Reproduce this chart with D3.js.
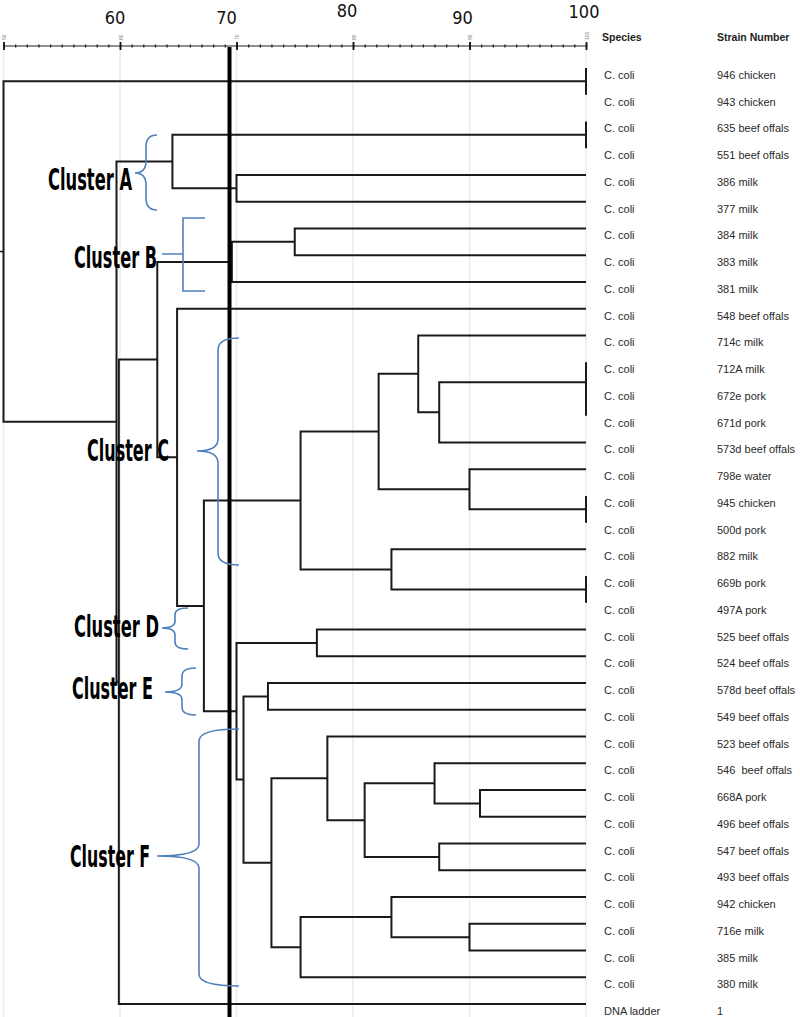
<!DOCTYPE html>
<html>
<head>
<meta charset="utf-8">
<script src="https://cdn.jsdelivr.net/npm/d3@7"></script>
<style>
  html, body { margin: 0; padding: 0; background: #fff; }
  svg { display: block; }
  text { white-space: pre; }
</style>
</head>
<body>
<svg id="chart" width="800" height="1017"></svg>
<script>
// ---------------- DATA ----------------
const species = [
  "C. coli","C. coli","C. coli","C. coli","C. coli","C. coli","C. coli","C. coli","C. coli",
  "C. coli","C. coli","C. coli","C. coli","C. coli","C. coli","C. coli","C. coli","C. coli",
  "C. coli","C. coli","C. coli","C. coli","C. coli","C. coli","C. coli","C. coli","C. coli",
  "C. coli","C. coli","C. coli","C. coli","C. coli","C. coli","C. coli","C. coli","DNA ladder"
];
const strains = [
  "946 chicken","943 chicken","635 beef offals","551 beef offals","386 milk","377 milk",
  "384 milk","383 milk","381 milk","548 beef offals","714c milk","712A milk","672e pork",
  "671d pork","573d beef offals","798e water","945 chicken","500d pork","882 milk",
  "669b pork","497A pork","525 beef offals","524 beef offals","578d beef offals",
  "549 beef offals","523 beef offals","546  beef offals","668A pork","496 beef offals",
  "547 beef offals","493 beef offals","942 chicken","716e milk","385 milk","380 milk","1"
];
// Linkage: [childA, childB, similarity %]; ids >= 36 refer to earlier merges (36 + index)
const merges = [
  [0, 1, 100],     // 36
  [2, 3, 100],     // 37
  [4, 5, 70.0],    // 38
  [37, 38, 64.5],  // 39 Cluster A
  [6, 7, 75.0],    // 40
  [40, 8, 69.6],   // 41 Cluster B
  [12, 13, 100],   // 42
  [11, 42, 100],   // 43
  [43, 14, 87.4],  // 44
  [10, 44, 85.6],  // 45
  [16, 17, 100],   // 46
  [15, 46, 90.0],  // 47
  [45, 47, 82.2],  // 48
  [19, 20, 100],   // 49
  [18, 49, 83.3],  // 50
  [48, 50, 75.5],  // 51 Cluster C
  [21, 22, 76.9],  // 52
  [23, 24, 72.7],  // 53
  [27, 28, 90.9],  // 54
  [26, 54, 87.0],  // 55
  [29, 30, 87.4],  // 56
  [55, 56, 81.0],  // 57
  [25, 57, 77.8],  // 58
  [32, 33, 90.0],  // 59
  [31, 59, 83.3],  // 60
  [60, 34, 75.5],  // 61
  [58, 61, 73.0],  // 62
  [53, 62, 70.6],  // 63
  [52, 63, 70.0],  // 64
  [51, 64, 67.2],  // 65
  [9, 65, 64.9],   // 66
  [41, 66, 63.2],  // 67
  [67, 35, 59.9],  // 68
  [39, 68, 59.7],  // 69
  [36, 69, 50.0]   // 70 root
];
const cutoff = 69.4;
const majorTicks = [50, 60, 70, 80, 90, 100];
const minorTicks = d3.range(50, 101, 1);
const bigTickLabels = ["60", "70", "80", "90", "100"];
const clusterNames = ["Cluster A","Cluster B","Cluster C","Cluster D","Cluster E","Cluster F"];

// ---------------- LAYOUT ----------------
const svg = d3.select("#chart");
const x = d3.scaleLinear().domain([50, 100]).range([3.5, 586]);
const y = d3.scaleLinear().domain([0, strains.length - 1]).range([68, 1004]);
const axisY = 46;
const nLeaves = strains.length;

// grid lines
svg.append("g").selectAll("line").data(majorTicks).join("line")
  .attr("x1", d => x(d)).attr("x2", d => x(d))
  .attr("y1", axisY).attr("y2", 1017)
  .attr("stroke", "#ebebeb").attr("stroke-width", 1.5);

// axis
const gMinor = svg.append("g").attr("transform", `translate(0,${axisY + 1.5})`)
  .call(d3.axisTop(x).tickValues(minorTicks).tickSize(3).tickSizeOuter(0).tickFormat(""));
gMinor.select(".domain").attr("stroke", "#222").attr("stroke-width", 1.2).attr("d", `M${x(50)},-1.5H${x(100)}`);
gMinor.selectAll(".tick line").attr("stroke", "#222").attr("stroke-width", 1.3);

const gMajor = svg.append("g").attr("transform", `translate(0,${axisY + 4})`)
  .call(d3.axisTop(x).tickValues(majorTicks).tickSize(8).tickSizeOuter(0).tickFormat(""));
gMajor.select(".domain").remove();
gMajor.selectAll(".tick line").attr("stroke", "#111").attr("stroke-width", 1.8);

// tiny rotated tick labels
svg.append("g").selectAll("text").data(majorTicks).join("text")
  .attr("transform", d => `translate(${x(d) + 2.5},${axisY - 6}) rotate(-90)`)
  .attr("font-family", "Liberation Sans, Arial, sans-serif")
  .attr("font-size", 5).attr("fill", "#777").attr("text-anchor", "start")
  .text(d => d.toFixed(0));

// big hand-placed labels
const bigLabelOffset = { "60": [-5, 24], "70": [-10, 24], "80": [-6, 17], "90": [-7, 24], "100": [-2, 18] };
svg.append("g").selectAll("text").data(bigTickLabels).join("text")
  .attr("x", d => x(+d) + bigLabelOffset[d][0])
  .attr("y", d => bigLabelOffset[d][1])
  .attr("text-anchor", "middle")
  .attr("font-family", "Liberation Sans Narrow, DejaVu Sans Condensed, sans-serif")
  .attr("font-size", 18).attr("fill", "#111")
  .text(d => d);

// ---------------- TREE ----------------
const pos = [];
for (let i = 0; i < nLeaves; i++) pos[i] = { x: x(100), y: y(i) };
merges.forEach((m, k) => {
  const a = pos[m[0]], b = pos[m[1]];
  pos[nLeaves + k] = { x: x(m[2]), y: (a.y + b.y) / 2 };
});

const tree = svg.append("g").attr("fill", "none").attr("stroke", "#1a1a1a").attr("stroke-width", 2);
tree.selectAll("path").data(merges).join("path")
  .attr("d", (m, k) => {
    const a = pos[m[0]], b = pos[m[1]], n = pos[nLeaves + k];
    return `M${a.x},${a.y}H${n.x}V${b.y}H${b.x}`;
  });
// root stub
const rootPos = pos[nLeaves + merges.length - 1];
tree.append("path").attr("d", `M0,${rootPos.y}H${rootPos.x}`).attr("stroke-width", 1.5);

// cutoff line
svg.append("line")
  .attr("x1", x(cutoff)).attr("x2", x(cutoff))
  .attr("y1", axisY + 1).attr("y2", 1017)
  .attr("stroke", "#000").attr("stroke-width", 4);

// ---------------- LABELS ----------------
const labelFont = "Liberation Sans, Arial, sans-serif";
svg.append("text").attr("x", 602).attr("y", 41).attr("font-family", labelFont)
  .attr("font-size", 10.5).attr("font-weight", "bold").attr("fill", "#222").text("Species");
svg.append("text").attr("x", 717).attr("y", 41).attr("font-family", labelFont)
  .attr("font-size", 10.5).attr("font-weight", "bold").attr("fill", "#222").text("Strain Number");

svg.append("g").selectAll("text").data(species).join("text")
  .attr("x", 604).attr("y", (d, i) => y(i) + 11)
  .attr("font-family", labelFont).attr("font-size", 11).attr("fill", "#2a2a2a")
  .text(d => d);
svg.append("g").selectAll("text").data(strains).join("text")
  .attr("x", 717).attr("y", (d, i) => y(i) + 11)
  .attr("font-family", labelFont).attr("font-size", 11).attr("fill", "#2a2a2a")
  .text(d => d);

// ---------------- CLUSTER ANNOTATIONS ----------------
const clusterLabelBox = [
  [48, 190, 84], [74, 268, 83], [87, 461, 82], [74, 637, 85], [72, 699, 81], [70, 867, 80]
];
svg.append("g").selectAll("text").data(clusterNames).join("text")
  .attr("x", (d, i) => clusterLabelBox[i][0])
  .attr("y", (d, i) => clusterLabelBox[i][1])
  .attr("textLength", (d, i) => clusterLabelBox[i][2])
  .attr("lengthAdjust", "spacingAndGlyphs")
  .attr("font-family", "Liberation Sans Narrow, DejaVu Sans Condensed, sans-serif")
  .attr("font-weight", "bold").attr("font-size", 31).attr("fill", "#000")
  .text(d => d);

function curly(xe, y1, xs, xt, ym, y2) {
  const r1 = Math.min(12, (ym - y1) / 3), r2 = Math.min(12, (y2 - ym) / 3);
  return `M${xe},${y1}Q${xs},${y1} ${xs},${y1 + r1}L${xs},${ym - r1}Q${xs},${ym} ${xt},${ym}` +
         `Q${xs},${ym} ${xs},${ym + r2}L${xs},${y2 - r2}Q${xs},${y2} ${xe},${y2}`;
}
const braces = [
  curly(157, 135, 146, 135, 173, 210),
  "M205,218H183V291H205M162,254H183",
  curly(239, 338, 218, 197, 451, 565),
  curly(188, 608, 175, 162, 628, 649),
  curly(196, 668, 182, 165, 692, 715),
  curly(239, 729, 199, 157, 856, 986)
];
svg.append("g").selectAll("path").data(braces).join("path")
  .attr("d", d => d).attr("fill", "none")
  .attr("stroke", "#4f7fbd").attr("stroke-width", 1.6);
</script>
</body>
</html>
